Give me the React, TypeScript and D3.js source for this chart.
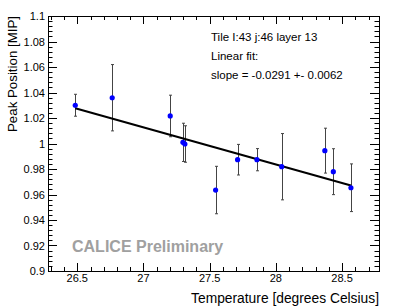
import React, { useEffect, useRef } from 'react';
import * as d3 from 'd3';

// measured points: temperature, peak position, error
const temps = [26.485, 26.764, 27.202, 27.298, 27.313, 27.545, 27.711, 27.857, 28.044, 28.37, 28.434, 28.567];
const peaks = [1.030, 1.0359, 1.0216, 1.0009, 0.9996, 0.9635, 0.9873, 0.9873, 0.9818, 0.9944, 0.9779, 0.9653];
const errors = [0.0086, 0.026, 0.0163, 0.015, 0.0143, 0.0186, 0.012, 0.0087, 0.026, 0.0176, 0.018, 0.0187];

// linear fit
const fitSlope = -0.0291;
const fitIntercept = 1.7983;

const xTicks = [26.5, 27, 27.5, 28, 28.5];
const yTicks = [0.9, 0.92, 0.94, 0.96, 0.98, 1, 1.02, 1.04, 1.06, 1.08, 1.1];

const infoLines = ['Tile I:43 j:46 layer 13', 'Linear fit:', 'slope = -0.0291 +- 0.0062'];

const App = () => {
  const ref = useRef<SVGSVGElement>(null);

  useEffect(() => {
    const svg = d3.select(ref.current);
    svg.selectAll('*').remove();

    const left = 48, right = 379, top = 16, bottom = 271;
    const font = 'Liberation Sans, Arial, Helvetica, sans-serif';

    const x = d3.scaleLinear().domain([26.279, 28.779]).range([left, right]);
    const y = d3.scaleLinear().domain([0.9, 1.1]).range([bottom, top]);

    svg.append('rect').attr('width', 399).attr('height', 308).attr('fill', '#fff');

    const axes = svg.append('g').attr('stroke', '#000').attr('stroke-width', 1);

    // y ticks, left & right
    const yMinor = d3.range(0, 51).map(i => 0.9 + i * 0.004);
    yMinor.forEach((v, i) => {
      const len = i % 5 === 0 ? 9 : 4.5;
      const py = Math.round(y(v)) + 0.5;
      axes.append('line').attr('x1', left).attr('x2', left + len).attr('y1', py).attr('y2', py);
      axes.append('line').attr('x1', right).attr('x2', right - len).attr('y1', py).attr('y2', py);
    });

    // x ticks, bottom & top
    const xMinor = d3.range(0, 26).map(i => 26.3 + i * 0.1).filter(v => v <= 28.78);
    xMinor.forEach(v => {
      const major = Math.abs(v * 2 - Math.round(v * 2)) < 1e-6;
      const len = major ? 8 : 4;
      const px = Math.round(x(v)) + 0.5;
      axes.append('line').attr('x1', px).attr('x2', px).attr('y1', bottom).attr('y2', bottom - len);
      axes.append('line').attr('x1', px).attr('x2', px).attr('y1', top).attr('y2', top + len);
    });

    axes.append('rect')
      .attr('x', left + 0.5).attr('y', top + 0.5)
      .attr('width', right - left).attr('height', bottom - top)
      .attr('fill', 'none');

    // tick labels
    svg.append('g').selectAll('text')
      .data(yTicks)
      .enter().append('text')
      .attr('x', left - 3)
      .attr('y', d => y(d) + 4)
      .attr('text-anchor', 'end')
      .attr('font-family', font)
      .attr('font-size', 11)
      .text(d => d3.format('')(+d.toFixed(2)));

    svg.append('g').selectAll('text')
      .data(xTicks)
      .enter().append('text')
      .attr('x', d => x(d))
      .attr('y', 282)
      .attr('text-anchor', 'middle')
      .attr('font-family', font)
      .attr('font-size', 11)
      .text(d => String(d));

    // axis titles
    svg.append('text')
      .attr('transform', `translate(17,${top}) rotate(-90)`)
      .attr('text-anchor', 'end')
      .attr('font-family', font)
      .attr('font-size', 13.3)
      .text('Peak Position [MIP]');

    svg.append('text')
      .attr('x', right)
      .attr('y', 303)
      .attr('text-anchor', 'end')
      .attr('font-family', font)
      .attr('font-size', 13.8)
      .text('Temperature [degrees Celsius]');

    // CALICE label
    svg.append('text')
      .attr('x', 72)
      .attr('y', 252)
      .attr('font-family', font)
      .attr('font-size', 16)
      .attr('font-weight', 'bold')
      .attr('fill', '#a0a0a0')
      .text('CALICE Preliminary');

    // info text
    svg.append('g').selectAll('text')
      .data(infoLines)
      .enter().append('text')
      .attr('x', 211)
      .attr('y', (d, i) => 41 + i * 19)
      .attr('font-family', font)
      .attr('font-size', 11.5)
      .text(d => d);

    // error bars
    const eb = svg.append('g').attr('stroke', '#444').attr('stroke-width', 1);
    temps.forEach((t, i) => {
      const px = Math.round(x(t)) + 0.5;
      const y1 = y(peaks[i] + errors[i]);
      const y2 = y(peaks[i] - errors[i]);
      eb.append('line').attr('x1', px).attr('x2', px).attr('y1', y1).attr('y2', y2);
      eb.append('line').attr('x1', px - 1.5).attr('x2', px + 1.5).attr('y1', y1).attr('y2', y1);
      eb.append('line').attr('x1', px - 1.5).attr('x2', px + 1.5).attr('y1', y2).attr('y2', y2);
    });

    // fit line
    const x0 = d3.min(temps) as number;
    const x1 = d3.max(temps) as number;
    svg.append('line')
      .attr('x1', x(x0)).attr('y1', y(fitIntercept + fitSlope * x0))
      .attr('x2', x(x1)).attr('y2', y(fitIntercept + fitSlope * x1))
      .attr('stroke', '#000')
      .attr('stroke-width', 2);

    // points
    svg.append('g').selectAll('circle')
      .data(temps)
      .enter().append('circle')
      .attr('cx', d => x(d))
      .attr('cy', (d, i) => y(peaks[i]))
      .attr('r', 2.6)
      .attr('fill', '#0000ff');
  }, []);

  return <svg ref={ref} width={399} height={308} style={{ position: 'absolute', left: 0, top: 0 }} />;
};

export default App;
